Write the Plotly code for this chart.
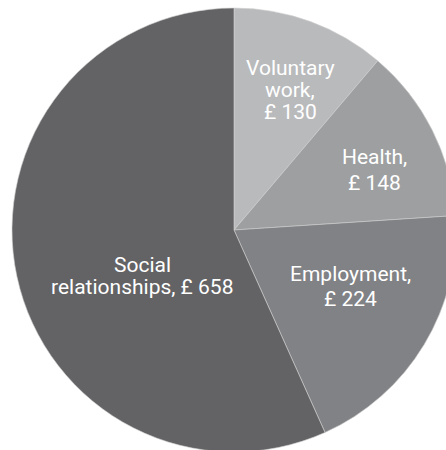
import plotly.graph_objects as go

categories = ["Voluntary work", "Health", "Employment", "Social relationships"]
values = [130, 148, 224, 658]
label_lines = [
    ["Voluntary", "work,", "£ 130"],
    ["Health,", "£ 148"],
    ["Employment,", "£ 224"],
    ["Social", "relationships, £ 658"],
]

colors = ["#b9babc", "#9e9fa1", "#818285", "#636365"]
# pixel position (centre x, centre y of first line) and line spacing for each label
label_px = [(290, 68.5), (374, 157), (350, 274), (142, 265)]
label_spacing = [21.5, 26, 25, 22]

W, H = 468, 460
cx, cy, R = 234, 230, 222

fig = go.Figure(go.Pie(
    labels=categories,
    values=values,
    sort=False,
    direction="clockwise",
    rotation=0,
    textinfo="none",
    hoverinfo="label+value",
    marker=dict(colors=colors, line=dict(color="#d0d0d0", width=0.6)),
    domain=dict(x=[(cx - R) / W, (cx + R) / W], y=[(H - (cy + R)) / H, (H - (cy - R)) / H]),
    showlegend=False,
))

for lines, (px, py), sp in zip(label_lines, label_px, label_spacing):
    for k, line in enumerate(lines):
        y = py + k * sp
        fig.add_annotation(
            x=px / W, y=1 - y / H, xref="paper", yref="paper",
            text=line, showarrow=False, align="center",
            xanchor="center", yanchor="middle",
            font=dict(family="Roboto", size=21, color="white"),
        )

fig.update_layout(
    width=W, height=H,
    margin=dict(l=0, r=0, t=0, b=0),
    paper_bgcolor="white", plot_bgcolor="white",
)

fig.write_html("out.html", post_script="document.documentElement.style.overflow='hidden';document.body.style.overflow='hidden';document.body.style.margin='0';")
